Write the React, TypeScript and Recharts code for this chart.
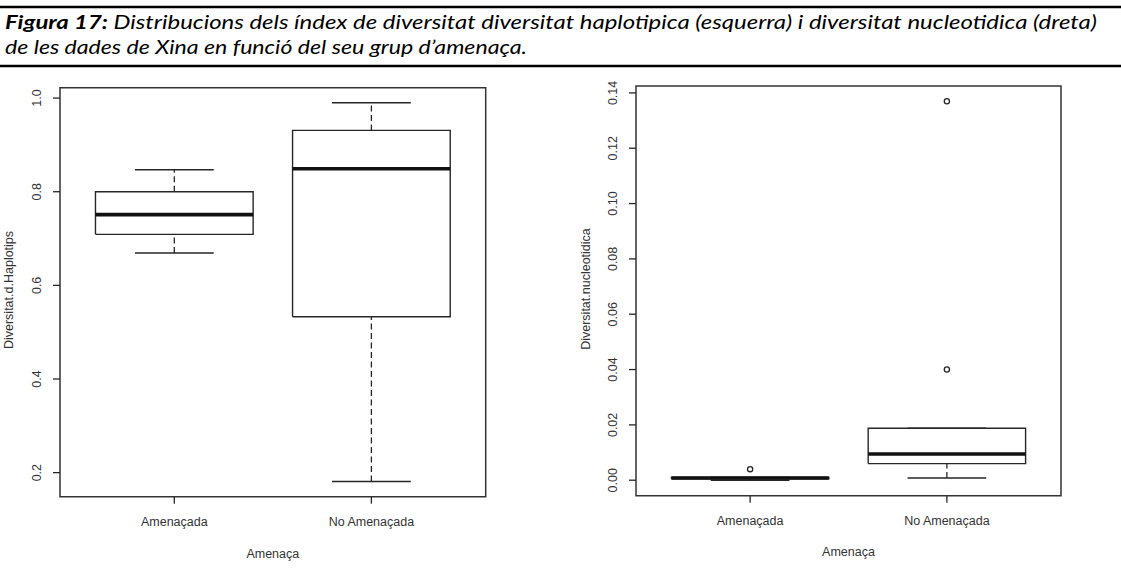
import React from 'react';
import { ComposedChart, Line, Scatter, XAxis, YAxis, ReferenceArea } from 'recharts';

// Groups on the x axis (placed at positions 1 and 2)
const categories = ['Amenaçada', 'No Amenaçada'];

// Haplotype diversity: box-plot summaries per group
const haploLowWhisker = [0.669, 0.181];
const haploQ1 = [0.709, 0.533];
const haploMedian = [0.751, 0.849];
const haploQ3 = [0.8, 0.931];
const haploHighWhisker = [0.847, 0.99];
const haploOutliers: number[][] = [[], []];
const haploTicks = [0.2, 0.4, 0.6, 0.8, 1.0];
const haploDomain: [number, number] = [0.1486, 1.0222];

// Nucleotide diversity: box-plot summaries per group
const nucLowWhisker = [0.0, 0.0008];
const nucQ1 = [0.0005, 0.006];
const nucMedian = [0.0008, 0.0095];
const nucQ3 = [0.001, 0.0188];
const nucHighWhisker = [0.001, 0.0188];
const nucOutliers: number[][] = [[0.004], [0.04, 0.137]];
const nucTicks = [0.0, 0.02, 0.04, 0.06, 0.08, 0.1, 0.12, 0.14];
const nucDomain: [number, number] = [-0.0056, 0.1425];

const X_DOMAIN: [number, number] = [0.42, 2.58];
const BOX_HALF = 0.4;
const CAP_HALF = 0.2;

const INK = '#262626';
const TEXT = '#333333';
const AXIS_FONT = '"Liberation Sans", Arial, sans-serif';

type Pt = { x: number; y: number };

interface BoxStats {
  lo: number[];
  q1: number[];
  med: number[];
  q3: number[];
  hi: number[];
  out: number[][];
}

function buildSegments(s: BoxStats) {
  const boxes: Pt[][] = [];
  const medians: Pt[][] = [];
  const whiskers: Pt[][] = [];
  const caps: Pt[][] = [];
  const outliers: Pt[] = [];
  categories.forEach((_, i) => {
    const p = i + 1;
    boxes.push([
      { x: p - BOX_HALF, y: s.q1[i] },
      { x: p + BOX_HALF, y: s.q1[i] },
      { x: p + BOX_HALF, y: s.q3[i] },
      { x: p - BOX_HALF, y: s.q3[i] },
      { x: p - BOX_HALF, y: s.q1[i] },
    ]);
    medians.push([
      { x: p - BOX_HALF, y: s.med[i] },
      { x: p + BOX_HALF, y: s.med[i] },
    ]);
    whiskers.push([
      { x: p, y: s.q3[i] },
      { x: p, y: s.hi[i] },
    ]);
    whiskers.push([
      { x: p, y: s.lo[i] },
      { x: p, y: s.q1[i] },
    ]);
    caps.push([
      { x: p - CAP_HALF, y: s.hi[i] },
      { x: p + CAP_HALF, y: s.hi[i] },
    ]);
    caps.push([
      { x: p - CAP_HALF, y: s.lo[i] },
      { x: p + CAP_HALF, y: s.lo[i] },
    ]);
    s.out[i].forEach((v) => outliers.push({ x: p, y: v }));
  });
  return { boxes, medians, whiskers, caps, outliers };
}

const YTick = (props: any) => {
  const { x, y, payload, digits } = props;
  return (
    <text
      x={x}
      y={y}
      transform={`rotate(-90 ${x} ${y})`}
      textAnchor="middle"
      dominantBaseline="central"
      fontFamily={AXIS_FONT}
      fontSize={12.5}
      fill={TEXT}
    >
      {Number(payload.value).toFixed(digits)}
    </text>
  );
};

const XTick = (props: any) => {
  const { x, y, payload } = props;
  const label = categories[Math.round(payload.value) - 1] ?? '';
  return (
    <text
      x={x}
      y={y}
      textAnchor="middle"
      dominantBaseline="central"
      fontFamily={AXIS_FONT}
      fontSize={12.5}
      fill={TEXT}
    >
      {label}
    </text>
  );
};

const OpenCircle = (props: any) => {
  const { cx, cy } = props;
  return <circle cx={cx} cy={cy} r={2.6} fill="none" stroke={INK} strokeWidth={1.3} />;
};

interface PanelProps {
  stats: BoxStats;
  domain: [number, number];
  ticks: number[];
  digits: number;
  width: number;
  height: number;
  margin: { top: number; right: number; left: number; bottom: number };
  yAxisWidth: number;
  xAxisHeight: number;
}

function BoxPanel({ stats, domain, ticks, digits, width, height, margin, yAxisWidth, xAxisHeight }: PanelProps) {
  const seg = buildSegments(stats);
  const lineCommon = {
    dataKey: 'y',
    type: 'linear' as const,
    dot: false,
    activeDot: false,
    isAnimationActive: false,
    legendType: 'none' as const,
  };
  return (
    <ComposedChart width={width} height={height} margin={margin}>
      <XAxis
        dataKey="x"
        type="number"
        domain={X_DOMAIN}
        allowDataOverflow
        ticks={[1, 2]}
        interval={0}
        axisLine={false}
        tickLine={{ stroke: INK, strokeWidth: 1.3 }}
        tickSize={7}
        tickMargin={18}
        height={xAxisHeight}
        tick={<XTick />}
      />
      <YAxis
        dataKey="y"
        type="number"
        domain={domain}
        allowDataOverflow
        ticks={ticks}
        interval={0}
        axisLine={false}
        tickLine={{ stroke: INK, strokeWidth: 1.3 }}
        tickSize={7}
        tickMargin={16}
        width={yAxisWidth}
        tick={<YTick digits={digits} />}
      />
      <ReferenceArea
        x1={X_DOMAIN[0]}
        x2={X_DOMAIN[1]}
        y1={domain[0]}
        y2={domain[1]}
        ifOverflow="visible"
        fill="none"
        fillOpacity={0}
        stroke="#333333"
        strokeWidth={1.5}
      />
      {seg.whiskers.map((d, k) => (
        <Line key={`w${k}`} {...lineCommon} data={d} stroke={INK} strokeWidth={1.3} strokeDasharray="6 3.5" />
      ))}
      {seg.caps.map((d, k) => (
        <Line key={`c${k}`} {...lineCommon} data={d} stroke={INK} strokeWidth={1.4} />
      ))}
      {seg.boxes.map((d, k) => (
        <Line key={`b${k}`} {...lineCommon} data={d} stroke={INK} strokeWidth={1.4} />
      ))}
      {seg.medians.map((d, k) => (
        <Line key={`m${k}`} {...lineCommon} data={d} stroke="#111111" strokeWidth={3.6} />
      ))}
      <Scatter data={seg.outliers} isAnimationActive={false} shape={<OpenCircle />} legendType="none" />
    </ComposedChart>
  );
}

const haploStats: BoxStats = {
  lo: haploLowWhisker,
  q1: haploQ1,
  med: haploMedian,
  q3: haploQ3,
  hi: haploHighWhisker,
  out: haploOutliers,
};

const nucStats: BoxStats = {
  lo: nucLowWhisker,
  q1: nucQ1,
  med: nucMedian,
  q3: nucQ3,
  hi: nucHighWhisker,
  out: nucOutliers,
};

const CAPTION_FONT = 'Lato, "Open Sans", sans-serif';

export default function App() {
  return (
    <div style={{ position: 'absolute', left: 0, top: 0, width: 1121, height: 580, background: '#ffffff', overflow: 'hidden' }}>
      <div style={{ position: 'absolute', left: 0, top: 70 }}>
        <BoxPanel
          stats={haploStats}
          domain={haploDomain}
          ticks={haploTicks}
          digits={1}
          width={560}
          height={510}
          margin={{ top: 17.7, right: 74.3, left: 0, bottom: 0 }}
          yAxisWidth={60}
          xAxisHeight={83.3}
        />
      </div>
      <div style={{ position: 'absolute', left: 560, top: 70 }}>
        <BoxPanel
          stats={nucStats}
          domain={nucDomain}
          ticks={nucTicks}
          digits={2}
          width={561}
          height={510}
          margin={{ top: 16, right: 60, left: 0, bottom: 0 }}
          yAxisWidth={76}
          xAxisHeight={84.3}
        />
      </div>
      <svg
        width={1121}
        height={580}
        style={{ position: 'absolute', left: 0, top: 0, pointerEvents: 'none' }}
      >
        <line x1={0} x2={1121} y1={7} y2={7} stroke="#000" strokeWidth={2.5} />
        <line x1={0} x2={1121} y1={66} y2={66} stroke="#000" strokeWidth={2.5} />
        <text
          x={5}
          y={29}
          fontFamily={CAPTION_FONT}
          fontSize={19.5}
          fontStyle="italic"
          fill="#000"
          textLength={1092}
          lengthAdjust="spacingAndGlyphs"
        >
          <tspan fontWeight="bold">Figura 17:</tspan>
          <tspan> Distribucions dels índex de diversitat diversitat haplotipica (esquerra) i diversitat nucleotidica (dreta)</tspan>
        </text>
        <text
          x={5}
          y={54}
          fontFamily={CAPTION_FONT}
          fontSize={19.5}
          fontStyle="italic"
          fill="#000"
          textLength={522}
          lengthAdjust="spacingAndGlyphs"
        >
          de les dades de Xina en funció del seu grup d’amenaça.
        </text>

        <text x={272.8} y={554} textAnchor="middle" dominantBaseline="central" fontFamily={AXIS_FONT} fontSize={12.5} fill={TEXT}>
          Amenaça
        </text>
        <text x={848.5} y={552} textAnchor="middle" dominantBaseline="central" fontFamily={AXIS_FONT} fontSize={12.5} fill={TEXT}>
          Amenaça
        </text>
        <text
          x={9}
          y={290}
          transform="rotate(-90 9 290)"
          textAnchor="middle"
          dominantBaseline="central"
          fontFamily={AXIS_FONT}
          fontSize={12.5}
          fill={TEXT}
        >
          Diversitat.d.Haplotips
        </text>
        <text
          x={586}
          y={289}
          transform="rotate(-90 586 289)"
          textAnchor="middle"
          dominantBaseline="central"
          fontFamily={AXIS_FONT}
          fontSize={12.5}
          fill={TEXT}
        >
          Diversitat.nucleotidica
        </text>
      </svg>
    </div>
  );
}
